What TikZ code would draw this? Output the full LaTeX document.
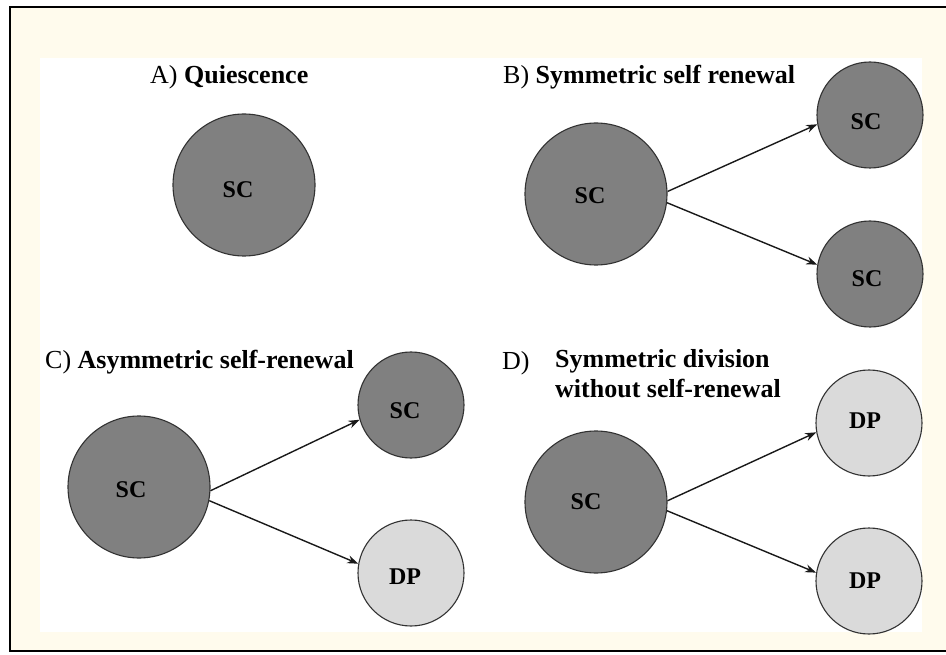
\documentclass[tikz,border=0pt]{standalone}
\usepackage{fontspec}
\setmainfont{Liberation Serif}
\usetikzlibrary{arrows.meta}
\definecolor{creambg}{RGB}{255,251,237}
\definecolor{scfill}{RGB}{128,128,128}
\definecolor{dpfill}{RGB}{218,218,218}
\definecolor{cellline}{RGB}{50,50,50}
\tikzset{
  cell/.style={circle, draw=cellline, line width=1.1pt, inner sep=0pt, font=\fontsize{24}{28}\selectfont\bfseries},
  big/.style={cell, minimum size=142pt, fill=scfill},
  smallsc/.style={cell, minimum size=106pt, fill=scfill},
  smalldp/.style={cell, minimum size=106pt, fill=dpfill},
  lbl/.style={inner sep=0pt, font=\fontsize{24}{28}\selectfont\bfseries},
  title/.style={anchor=base west, inner sep=0pt, font=\fontsize{26}{30}\selectfont},
  arr/.style={line width=1.4pt, draw=black!90, -{Stealth[length=11pt,width=8pt]}}
}
\begin{document}
\begin{tikzpicture}[x=1pt,y=-1pt]
\useasboundingbox (0,0) rectangle (946,655);
% background
\fill[creambg] (10,7) rectangle (946,651);
\fill[white] (40,58) rectangle (922,632);
\draw[line width=2.5pt] (946,7) -- (10,7) -- (10,651) -- (946,651);

% A
\node[title] (ta) at (150,84) {A) \textbf{Quiescence}};
\node[big] (a0) at (244,185) {};
\node[lbl] (la0) at ([shift={(-6,5)}]a0.center) {SC};

% B
\node[title] (tb) at (503,84) {B) \textbf{Symmetric self renewal}};
\node[big] (b0) at (596,194) {};
\node[lbl] (lb0) at ([shift={(-6,2)}]b0.center) {SC};
\node[smallsc] (b1) at (870,115) {};
\node[lbl] (lb1) at ([shift={(-4,7)}]b1.center) {SC};
\node[smallsc] (b2) at (870,274) {};
\node[lbl] (lb2) at ([shift={(-3,5)}]b2.center) {SC};
\draw[arr] (b0.2) -- (b1.190);
\draw[arr] (b0.-7) -- (b2.170);

% C
\node[title] (tc) at (45,368) {C) \textbf{Asymmetric self-renewal}};
\node[big] (c0) at (139,487) {};
\node[lbl] (lc0) at ([shift={(-8,3)}]c0.center) {SC};
\node[smallsc] (c1) at (411,405) {};
\node[lbl] (lc1) at ([shift={(-6,6)}]c1.center) {SC};
\node[smalldp] (c2) at (411,573) {};
\node[lbl] (lc2) at ([shift={(-6,4)}]c2.center) {DP};
\draw[arr] (c0.-3) -- (c1.196);
\draw[arr] (c0.-11) -- (c2.170);

% D
\node[title] (td) at (502,370) {D)};
\node[title] (td1) at (555,367) {\textbf{Symmetric division}};
\node[title] (td2) at (555,397) {\textbf{without self-renewal}};
\node[big] (d0) at (596,502) {};
\node[lbl] (ld0) at ([shift={(-10,0)}]d0.center) {SC};
\node[smalldp] (d1) at (869,423) {};
\node[lbl] (ld1) at ([shift={(-4,-2)}]d1.center) {DP};
\node[smalldp] (d2) at (869,581) {};
\node[lbl] (ld2) at ([shift={(-4,0)}]d2.center) {DP};
\draw[arr] (d0.1) -- (d1.190);
\draw[arr] (d0.-7) -- (d2.171);
\end{tikzpicture}
\end{document}
